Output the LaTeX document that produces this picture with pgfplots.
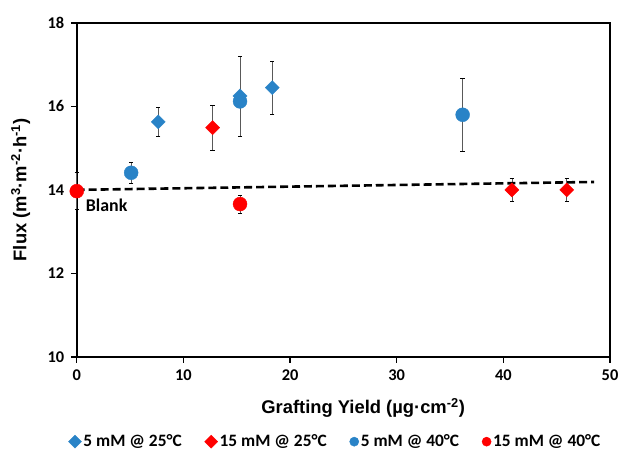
\documentclass[border=0pt]{standalone}
\usepackage{fontspec}
\setmainfont{Carlito}
\newfontfamily\arialfont{Liberation Sans}
\usepackage{pgfplots}
\pgfplotsset{compat=1.18}
\usetikzlibrary{calc}

\definecolor{exblue}{RGB}{41,131,199}
\definecolor{exred}{RGB}{255,0,0}

\pgfplotsset{
    errs/.style={
        error bars/y dir=both,
        error bars/y explicit,
        error bars/error bar style={line width=0.7bp, black!65},
        error bars/error mark options={rotate=90, mark size=2.2bp, line width=0.7bp, black},
    },
}

\begin{document}
\begin{tikzpicture}
\begin{axis}[
    scale only axis,
    width=535bp,
    height=335bp,
    xmin=0, xmax=50,
    ymin=10, ymax=18,
    xtick={0,10,...,50},
    ytick={10,12,...,18},
    tick pos=left,
    tick align=outside,
    major tick length=6bp,
    tick style={black, line width=1.4bp},
    axis line style={black, line width=2.2bp},
    clip=false,
    /pgf/number format/assume math mode=true,
    ticklabel style={font=\bfseries\fontsize{16.5}{16.5}\selectfont},
    xticklabel style={yshift=-3bp},
    yticklabel style={xshift=-3bp},
    xlabel={\arialfont\bfseries Grafting Yield (µg·cm\textsuperscript{-2})},
    ylabel={\arialfont\bfseries Flux (m\textsuperscript{3}·m\textsuperscript{-2}·h\textsuperscript{-1})},
    xlabel style={font=\fontsize{18.5}{18.5}\selectfont, at={(axis description cs:0.537,-0.152)}, anchor=center},
    ylabel style={font=\fontsize{18.5}{18.5}\selectfont, at={(axis description cs:-0.105,0.5)}, anchor=center},
    legend style={at={(axis description cs:0.485,-0.254)}, anchor=center, draw=none,
        font=\bfseries\fontsize{17.5}{17.5}\selectfont, inner sep=0pt,
        /tikz/every even column/.append style={column sep=21bp}},
    legend columns=4,
    legend cell align=left,
    legend image code/.code={\draw[#1, mark size=4.6bp] plot coordinates {(0.2cm,0cm)};},
]
% 5 mM @ 25 C
\addplot[only marks, mark=square*, mark size=5bp, mark options={rotate=45, fill=exblue, draw=exblue}, errs]
    coordinates {(7.64,15.63) +- (0,0.35) (15.31,16.25) +- (0,0.96) (18.33,16.45) +- (0,0.64)};
\addlegendentry{5 mM @ 25°C}
% 15 mM @ 25 C
\addplot[only marks, mark=square*, mark size=5bp, mark options={rotate=45, fill=exred, draw=exred}, errs]
    coordinates {(12.74,15.49) +- (0,0.54) (40.80,14.00) +- (0,0.28) (45.94,14.00) +- (0,0.28)};
\addlegendentry{15 mM @ 25°C}
% 5 mM @ 40 C
\addplot[only marks, mark=*, mark size=7bp, mark options={fill=exblue, draw=exblue}, errs]
    coordinates {(5.10,14.41) +- (0,0.25) (15.31,16.12) +- (0,0.0) (36.18,15.80) +- (0,0.87)};
\addlegendentry{5 mM @ 40°C}
% 15 mM @ 40 C
\addplot[only marks, mark=*, mark size=7bp, mark options={fill=exred, draw=exred}, errs]
    coordinates {(0,13.97) +- (0,0.44) (15.31,13.66) +- (0,0.22)};
\addlegendentry{15 mM @ 40°C}
% trend line
\addplot[forget plot, black, line width=2.6bp, dash pattern=on 8bp off 4bp] coordinates {(0,14.00) (48.5,14.19)};
\node[anchor=west, inner sep=0pt, font=\bfseries\fontsize{18}{18}\selectfont] at (axis cs:0.84,13.64) {Blank};
\coordinate (SW) at (axis cs:0,10);
\coordinate (NE) at (axis cs:50,18);
\end{axis}
\pgfresetboundingbox
\path[use as bounding box] ($(SW)+(-77bp,-95bp)$) rectangle ($(NE)+(11bp,23bp)$);
\end{tikzpicture}
\end{document}
